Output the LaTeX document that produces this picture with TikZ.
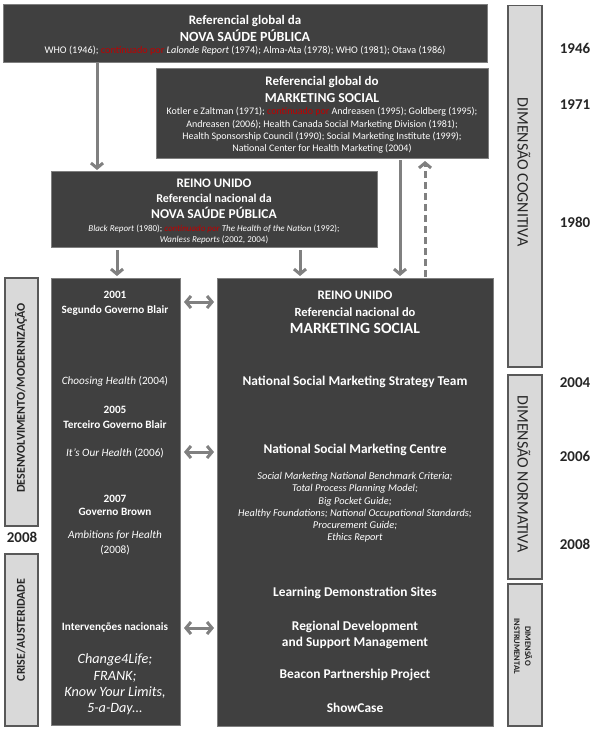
\documentclass[tikz,border=0pt]{standalone}
\usepackage{fontspec}
\setmainfont{Carlito}
\usetikzlibrary{arrows.meta}
\definecolor{boxfill}{HTML}{404040}
\definecolor{boxline}{HTML}{7F7F7F}
\definecolor{stripfill}{HTML}{D9D9D9}
\definecolor{stripline}{HTML}{595959}
\definecolor{arr}{HTML}{808080}
\definecolor{redtxt}{HTML}{C00000}
\newcommand{\cont}{\textcolor{redtxt}{continuado por}}
\newcommand{\fs}[2]{\fontsize{#1}{#2}\selectfont}
\begin{document}
\begin{tikzpicture}[x=1pt,y=-1pt,
 darkbox/.style={draw=boxline, line width=1pt, fill=boxfill, anchor=north west, inner sep=0pt},
 strip/.style={draw=stripline, line width=1.5pt, fill=stripfill, anchor=north west, inner sep=0pt},
 wt/.style={text=white, align=center, inner sep=0pt},
 ttl/.style={wt, font=\bfseries\fs{13}{15}},
 small/.style={wt, font=\fs{10}{12.3}},
 colb/.style={wt, font=\bfseries\fs{11.2}{13}},
 coli/.style={wt, font=\itshape\fs{11.2}{15}},
 colbig/.style={wt, font=\itshape\fs{14.2}{16.3}},
 item/.style={wt, font=\bfseries\fs{13.4}{16}},
 year/.style={inner sep=0pt, font=\bfseries\fs{15}{17}, text=black!85},
 striplbl/.style={inner sep=0pt, align=center, text=black!85},
 arrowst/.style={draw=arr, line width=3pt, -{Straight Barb[length=5pt,width=12pt]}},
 dblarrow/.style={draw=arr, line width=3pt, {Straight Barb[length=5pt,width=12pt]}-{Straight Barb[length=5pt,width=12pt]}},
]
\useasboundingbox (0,0) rectangle (601,733);
\fill[white] (0,0) rectangle (601,733);

% boxes
\node[darkbox, minimum width=484pt, minimum height=58pt] (b1) at (3,4) {};
\node[darkbox, minimum width=332pt, minimum height=90pt] (b2) at (156,68) {};
\node[darkbox, minimum width=326pt, minimum height=76pt] (b3) at (51,171) {};
\node[darkbox, minimum width=129pt, minimum height=447pt] (lc) at (51,278) {};
\node[darkbox, minimum width=276pt, minimum height=448pt] (rb) at (217,278) {};

% strips
\node[strip, minimum width=33pt, minimum height=248pt] (s1) at (4,277) {};
\node[strip, minimum width=33pt, minimum height=172pt] (s2) at (4,553) {};
\node[strip, minimum width=34pt, minimum height=361pt] (r1) at (507,5) {};
\node[strip, minimum width=34pt, minimum height=204pt] (r2) at (507,374) {};
\node[strip, minimum width=34pt, minimum height=142pt] (r3) at (507,583) {};

\node[striplbl, rotate=90, font=\bfseries\fs{12}{14}] (s1t) at (21,398) {DESENVOLVIMENTO/MODERNIZAÇÃO};
\node[striplbl, rotate=90, font=\bfseries\fs{12}{14}] (s2t) at (21,630) {CRISE/AUSTERIDADE};
\node[striplbl, rotate=-90, font=\fs{16}{18}] (r1t) at (524,172) {DIMENSÃO COGNITIVA};
\node[striplbl, rotate=-90, font=\fs{16}{18}] (r2t) at (524,474) {DIMENSÃO NORMATIVA};
\node[striplbl, rotate=-90, font=\bfseries\fs{8.5}{11}] (r3t) at (523,646) {DIMENSÃO\\INSTRUMENTAL};

% years
\node[year] (y1946) at (575,48) {1946};
\node[year] (y1971) at (575,105) {1971};
\node[year] (y1980) at (575,222) {1980};
\node[year] (y2004) at (575,383) {2004};
\node[year] (y2006) at (575,456) {2006};
\node[year] (y2008r) at (575,544) {2008};
\node[year] (y2008l) at (22,537) {2008};

% box 1 text
\node[ttl] (b1a) at (245,21) {Referencial global da};
\node[ttl, font=\bfseries\fs{14}{16}] (b1b) at (245,36) {NOVA SAÚDE PÚBLICA};
\node[wt, font=\fs{10.2}{12}] (b1c) at (245,51) {WHO (1946); \cont{} \textit{Lalonde Report} (1974); Alma-Ata (1978); WHO (1981); Otava (1986)};

% box 2 text
\node[ttl] (b2a) at (322,82) {Referencial global do};
\node[ttl, font=\bfseries\fs{13.7}{15}] (b2b) at (322,98) {MARKETING SOCIAL};
\node[small] (b2c) at (322,130.5) {Kotler e Zaltman (1971); \cont{} Andreasen (1995); Goldberg (1995);\\
Andreasen (2006); Health Canada Social Marketing Division (1981);\\
Health Sponsorship Council (1990); Social Marketing Institute (1999);\\
National Center for Health Marketing (2004)};

% box 3 text
\node[ttl] (b3a) at (214,183) {REINO UNIDO};
\node[ttl, font=\bfseries\fs{12}{14}] (b3b) at (214,198) {Referencial nacional da};
\node[ttl, font=\bfseries\fs{13.5}{15}] (b3c) at (214,213) {NOVA SAÚDE PÚBLICA};
\node[wt, font=\itshape\fs{9}{11.5}] (b3d) at (214,234.5) {Black Report \textup{(1980);} \cont{} The Health of the Nation \textup{(1992);}\\
Wanless Reports \textup{(2002, 2004)}};

% left column text
\node[colb] (l1) at (115,295) {2001};
\node[colb] (l2) at (115,311) {Segundo Governo Blair};
\node[coli] (l3) at (115,381) {Choosing Health \textup{(2004)}};
\node[colb] (l4) at (115,410) {2005};
\node[colb] (l5) at (115,425) {Terceiro Governo Blair};
\node[coli] (l6) at (115,453) {It’s Our Health \textup{(2006)}};
\node[colb] (l7) at (115,499) {2007};
\node[colb] (l8) at (115,512) {Governo Brown};
\node[coli] (l9) at (115,542.5) {Ambitions for Health\\\textup{(2008)}};
\node[colb] (l10) at (115,628) {Intervenções nacionais};
\node[colbig] (l11) at (115,684.5) {Change4Life;\\FRANK;\\Know Your Limits,\\5-a-Day...};

% right box text
\node[ttl] (r_a) at (355,295) {REINO UNIDO};
\node[ttl, font=\bfseries\fs{12.5}{14}] (r_b) at (355,312) {Referencial nacional do};
\node[ttl, font=\bfseries\fs{15.6}{17}] (r_c) at (355,328) {MARKETING SOCIAL};
\node[item] (r_d) at (355,382) {National Social Marketing Strategy Team};
\node[item] (r_e) at (355,450) {National Social Marketing Centre};
\node[wt, font=\itshape\fs{10.4}{12.2}] (r_f) at (355,507.5) {Social Marketing National Benchmark Criteria;\\
Total Process Planning Model;\\
Big Pocket Guide;\\
Healthy Foundations; National Occupational Standards;\\
Procurement Guide;\\
Ethics Report};
\node[item] (r_g) at (355,593) {Learning Demonstration Sites};
\node[item] (r_h) at (355,635) {Regional Development\\and Support Management};
\node[item] (r_i) at (355,675) {Beacon Partnership Project};
\node[item] (r_j) at (355,708) {ShowCase};

% arrows
\draw[arrowst, shorten >=1pt] (97,0 |- b1.south) -- (97,0 |- b3.north);
\draw[arrowst, shorten >=2pt, shorten <=2pt] (117,0 |- b3.south) -- (117,0 |- lc.north);
\draw[arrowst, shorten >=2pt, shorten <=2pt] (300,0 |- b3.south) -- (300,0 |- rb.north);
\draw[arrowst, shorten >=2pt, shorten <=1pt] (400,0 |- b2.south) -- (400,0 |- rb.north);
\draw[arrowst, dash pattern=on 7pt off 4pt, shorten >=2pt, shorten <=1pt] (425,0 |- rb.north) -- (425,0 |- b2.south);
\draw[dblarrow, shorten >=3pt, shorten <=3pt] (lc.east |- 0,302) -- (rb.west |- 0,302);
\draw[dblarrow, shorten >=3pt, shorten <=3pt] (lc.east |- 0,452) -- (rb.west |- 0,452);
\draw[dblarrow, shorten >=3pt, shorten <=3pt] (lc.east |- 0,628) -- (rb.west |- 0,628);
\end{tikzpicture}
\end{document}
